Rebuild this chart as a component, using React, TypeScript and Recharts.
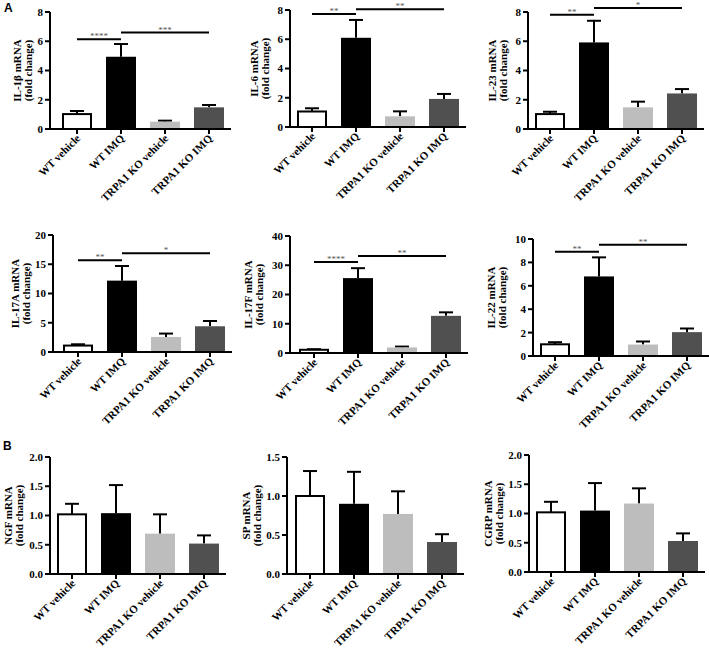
import React from 'react';
import { BarChart, Bar, XAxis, YAxis, ReferenceLine } from 'recharts';

// groups on the x axis (same for every panel)
const groups = ['WT vehicle', 'WT IMQ', 'TRPA1 KO vehicle', 'TRPA1 KO IMQ'];

// mean fold change and top of the error bar (mean + SEM)
const il1bMean = [1.02, 4.94, 0.5, 1.48];
const il1bTop = [1.23, 5.81, 0.57, 1.64];
const il6Mean = [1.06, 6.1, 0.73, 1.92];
const il6Top = [1.28, 7.32, 1.07, 2.26];
const il23Mean = [1.02, 5.92, 1.48, 2.43];
const il23Top = [1.18, 7.4, 1.87, 2.73];
const il17aMean = [1.1, 12.2, 2.57, 4.4];
const il17aTop = [1.32, 14.7, 3.15, 5.3];
const il17fMean = [1.1, 25.6, 1.9, 12.7];
const il17fTop = [1.3, 29.0, 2.2, 13.9];
const il22Mean = [1.0, 6.8, 0.98, 2.04];
const il22Top = [1.18, 8.43, 1.24, 2.35];
const ngfMean = [1.02, 1.04, 0.69, 0.52];
const ngfTop = [1.2, 1.52, 1.02, 0.66];
const spMean = [1.0, 0.9, 0.77, 0.41];
const spTop = [1.32, 1.31, 1.06, 0.51];
const cgrpMean = [1.02, 1.05, 1.17, 0.53];
const cgrpTop = [1.2, 1.52, 1.43, 0.66];

// y ticks
const ticks8 = [0, 2, 4, 6, 8];
const ticks20 = [0, 5, 10, 15, 20];
const ticks40 = [0, 10, 20, 30, 40];
const ticks10 = [0, 2, 4, 6, 8, 10];
const ticks2 = [0, 0.5, 1, 1.5, 2];
const ticks15 = [0, 0.5, 1, 1.5];

// significance brackets: [from group, to group, y value, stars]
const il1bSig = [[0, 1, 6.13, '****'], [1, 3, 6.59, '***']];
const il6Sig = [[0, 1, 7.73, '**'], [1, 3, 8.05, '**']];
const il23Sig = [[0, 1, 7.82, '**'], [1, 3, 8.28, '*']];
const il17aSig = [[0, 1, 15.7, '**'], [1, 3, 16.9, '*']];
const il17fSig = [[0, 1, 31.1, '****'], [1, 3, 33.2, '**']];
const il22Sig = [[0, 1, 8.9, '**'], [1, 3, 9.5, '**']];

const COLORS = ['#ffffff', '#000000', '#bdbdbd', '#505050'];
const FONT = '"Liberation Serif", "Times New Roman", serif';

const BarWithError = (props: any) => {
  const { x, y, width, height, index, payload } = props;
  const fill = COLORS[index % COLORS.length];
  const base = y + height;
  const perUnit = payload.mean ? height / payload.mean : 0;
  const errY = base - payload.top * perUnit;
  const cx = x + width / 2;
  return (
    <g>
      <line x1={cx} x2={cx} y1={errY} y2={y} stroke="#000" strokeWidth={2} />
      <line x1={cx - 7} x2={cx + 7} y1={errY} y2={errY} stroke="#000" strokeWidth={2} />
      {index === 0 ? (
        <rect x={x + 1} y={y} width={width - 2} height={height} fill="#fff" stroke="#000" strokeWidth={2} />
      ) : (
        <rect x={x} y={y} width={width} height={height} fill={fill} />
      )}
    </g>
  );
};

const SlantTick = (props: any) => {
  const { x, y, payload } = props;
  const ax = x + 4;
  const ay = y + 3;
  return (
    <text
      x={ax}
      y={ay}
      transform={`rotate(-45, ${ax}, ${ay})`}
      textAnchor="end"
      fontFamily={FONT}
      fontWeight="bold"
      fontSize={11}
      fill="#000"
    >
      {payload.value}
    </text>
  );
};

const AxisTitle = (props: any) => {
  const { viewBox, lines, dx } = props;
  const axisX = viewBox.x + viewBox.width;
  const cy = viewBox.y + viewBox.height / 2;
  return (
    <g>
      {lines.map((t: string, i: number) => {
        const px = axisX + dx + i * 11;
        return (
          <text
            key={i}
            x={px}
            y={cy}
            transform={`rotate(-90, ${px}, ${cy})`}
            textAnchor="middle"
            dominantBaseline="central"
            fontFamily={FONT}
            fontWeight="bold"
            fontSize={11}
            fill="#000"
          >
            {t}
          </text>
        );
      })}
    </g>
  );
};

const panels = [
  { title: 'IL-1β mRNA', mean: il1bMean, top: il1bTop, ticks: ticks8, sig: il1bSig, axisX: 50, plotTop: 12, chartTop: 0, padLeft: 5, titleDx: -33 },
  { title: 'IL-6 mRNA', mean: il6Mean, top: il6Top, ticks: ticks8, sig: il6Sig, axisX: 290, plotTop: 10, chartTop: 0, padLeft: 0, titleDx: -36 },
  { title: 'IL-23 mRNA', mean: il23Mean, top: il23Top, ticks: ticks8, sig: il23Sig, axisX: 528, plotTop: 12, chartTop: 0, padLeft: 0, titleDx: -36 },
  { title: 'IL-17A mRNA', mean: il17aMean, top: il17aTop, ticks: ticks20, sig: il17aSig, axisX: 53, plotTop: 235, chartTop: 205, padLeft: 3, titleDx: -38 },
  { title: 'IL-17F mRNA', mean: il17fMean, top: il17fTop, ticks: ticks40, sig: il17fSig, axisX: 290, plotTop: 236, chartTop: 205, padLeft: 2, titleDx: -42 },
  { title: 'IL-22 mRNA', mean: il22Mean, top: il22Top, ticks: ticks10, sig: il22Sig, axisX: 533, plotTop: 239, chartTop: 205, padLeft: 0, titleDx: -42 },
  { title: 'NGF mRNA', mean: ngfMean, top: ngfTop, ticks: ticks2, sig: [], axisX: 50, plotTop: 457, chartTop: 435, padLeft: 0, titleDx: -42 },
  { title: 'SP mRNA', mean: spMean, top: spTop, ticks: ticks15, sig: [], axisX: 287, plotTop: 457, chartTop: 435, padLeft: 1, titleDx: -41 },
  { title: 'CGRP mRNA', mean: cgrpMean, top: cgrpTop, ticks: ticks2, sig: [], axisX: 529, plotTop: 455, chartTop: 435, padLeft: 0, titleDx: -41 },
];

const PLOT_H = 117;
const BAND = 44;
const X_AXIS_H = 90;

function Panel({ p }: { p: any }) {
  const rows = groups.map((name, i) => ({ name, mean: p.mean[i], top: p.top[i] }));
  const max = p.ticks[p.ticks.length - 1];
  const decimals = max <= 2 ? 1 : 0;
  const marginTop = p.plotTop - p.chartTop;
  const width = 50 + p.padLeft + BAND * 4 + 4;
  const height = marginTop + PLOT_H + X_AXIS_H;
  return (
    <div style={{ position: 'absolute', left: p.axisX - 50, top: p.chartTop }}>
      <BarChart
        width={width}
        height={height}
        data={rows}
        margin={{ top: marginTop, right: 4, left: 0, bottom: 0 }}
        barSize={30}
      >
        <XAxis
          dataKey="name"
          interval={0}
          height={X_AXIS_H}
          padding={{ left: p.padLeft, right: 0 }}
          stroke="#000"
          axisLine={{ stroke: '#000', strokeWidth: 2 }}
          tickLine={{ stroke: '#000', strokeWidth: 2 }}
          tickSize={5}
          tickMargin={2}
          tick={<SlantTick />}
        />
        <YAxis
          width={50}
          domain={[0, max]}
          ticks={p.ticks}
          interval={0}
          allowDataOverflow
          stroke="#000"
          axisLine={{ stroke: '#000', strokeWidth: 2 }}
          tickLine={{ stroke: '#000', strokeWidth: 2 }}
          tickSize={5}
          tickMargin={2}
          tickFormatter={(v: number) => v.toFixed(decimals)}
          tick={{ fontFamily: FONT, fontWeight: 'bold', fontSize: 11, fill: '#000' }}
          label={<AxisTitle lines={[p.title, '(fold change)']} dx={p.titleDx} />}
        />
        <Bar dataKey="mean" shape={<BarWithError />} isAnimationActive={false} />
        {p.sig.map((s: any, i: number) => (
          <ReferenceLine
            key={i}
            segment={[
              { x: groups[s[0]], y: s[2] },
              { x: groups[s[1]], y: s[2] },
            ]}
            ifOverflow="visible"
            stroke="#000"
            strokeWidth={2}
            label={{ value: s[3], position: 'top', offset: 0, fontSize: 9, fill: '#555', fontFamily: FONT }}
          />
        ))}
      </BarChart>
    </div>
  );
}

export default function App() {
  return (
    <div style={{ position: 'absolute', left: 0, top: 0, width: 709, height: 651, background: '#fff', overflow: 'hidden' }}>
      {panels.map((p, i) => (
        <Panel key={i} p={p} />
      ))}
      <div style={{ position: 'absolute', left: 4, top: 1, fontFamily: '"Liberation Sans", Arial, sans-serif', fontWeight: 'bold', fontSize: 12 }}>A</div>
      <div style={{ position: 'absolute', left: 3, top: 439, fontFamily: '"Liberation Sans", Arial, sans-serif', fontWeight: 'bold', fontSize: 12 }}>B</div>
    </div>
  );
}
